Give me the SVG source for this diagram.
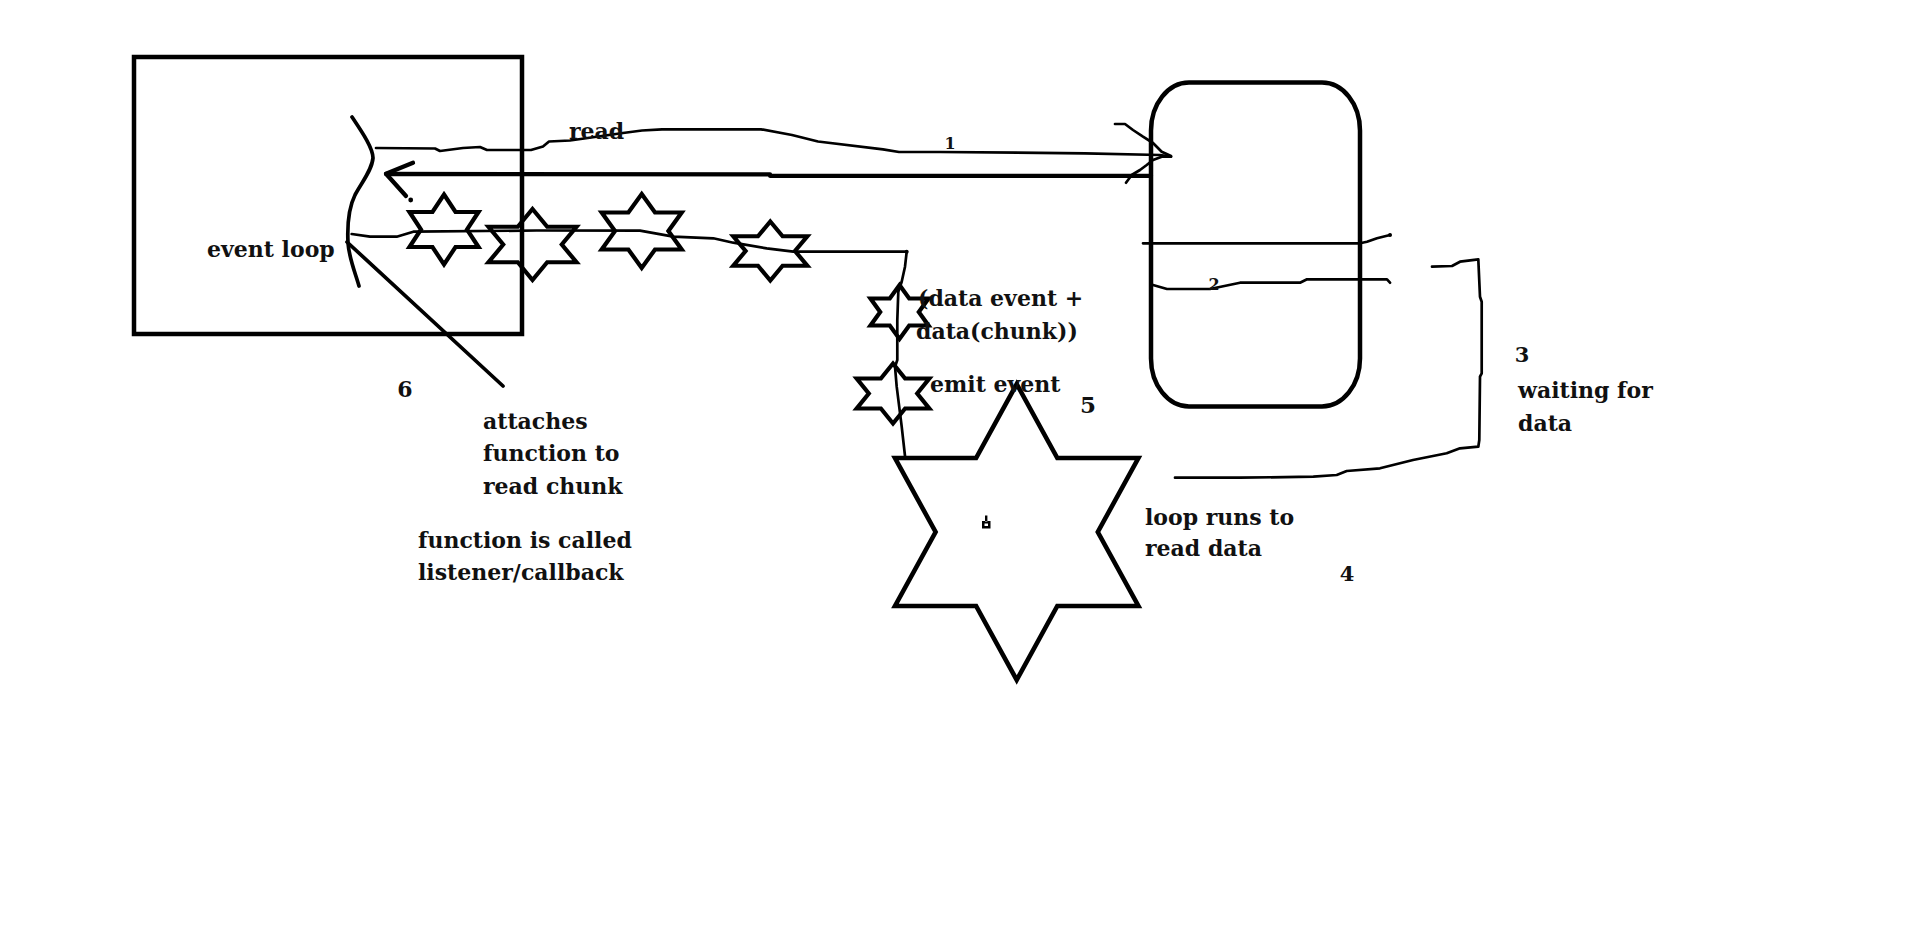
<svg xmlns="http://www.w3.org/2000/svg" width="1917" height="952" viewBox="0 0 1917 952">
<style>
.bg{fill:#fff}
.box{fill:none;stroke:#000;stroke-width:4.5}
.star{fill:none;stroke:#000;stroke-width:4.2;stroke-linejoin:miter}
.bigstar{fill:none;stroke:#000;stroke-width:4.6;stroke-linejoin:miter}
.thin{fill:none;stroke:#000;stroke-width:2.7;stroke-linecap:round;stroke-linejoin:round}
.med{fill:none;stroke:#000;stroke-width:3.7;stroke-linecap:round;stroke-linejoin:round}
.thick{fill:none;stroke:#000;stroke-width:4.3;stroke-linecap:round;stroke-linejoin:round}
text{font-family:"DejaVu Serif","Liberation Serif",serif;font-weight:bold;font-size:22px;fill:#111}
.num{font-size:16px}
.mid{text-anchor:middle}
</style>
<rect class="bg" x="0" y="0" width="1917" height="952"/>

<g id="event-loop-box">
  <rect class="box" x="134" y="57" width="388" height="277"/>
  <path class="med" d="M352,117 C362,132 373,148 373,158 C372,170 362,182 355,195 C349,207 347,222 348,243 C349,258 355,272 359,286"/>
  <text x="207" y="257">event loop</text>
</g>

<g id="storage">
  <rect class="box" x="1151" y="82.5" width="209" height="324" rx="38" ry="48"/>
</g>

<g id="connectors">
  <path class="thin" d="M376,148 L435,148.5 L440,151 L463,148 L480,147 L487,150 L531,150 L543,146.5 L549,141.5 L570,140.5 L623,133 L642,130.5 L662,129.3 L761,129.3 L792,135 L818,141.5 L883,149.3 L899,152 L940,152 L1085,153.3 L1160,155 L1171,156.5"/>
  <path class="thin" d="M1115,124 L1125,124 L1133,130 L1143,136.7 L1153,143 L1161.7,151.7 L1171,156"/>
  <path class="thin" d="M1171,156.7 L1161.7,156.7 L1153,160 L1146.7,165 L1140,170 L1131.7,175 L1126,182.7"/>
  <path class="thick" d="M1151,175.8 L770,175.8 L770,174.3 L386,174"/>
  <path class="thick" d="M413,162.7 L386,173.7 L406,196"/>
  <circle cx="410.7" cy="200" r="2.4" fill="#000"/>
  <path class="thin" d="M351.7,234 L370,236.7 L396.7,236.7 L413.3,231.7 L536.7,230.5 L640,230.7 L673.3,236.7 L713.3,238.3 L733.3,242.7 L766.7,248.3 L793.3,251.7 L906.7,251.7 L905,266.7 L901.7,281.7 L898.3,291.7 L897.3,320 L897.3,360 L895,366.7 L896.7,386.7 L901.7,426.7 L905,456"/>
  <circle cx="906.7" cy="251.7" r="2" fill="#000"/>
  <path class="med" d="M347,242 L503,386"/>
  <path class="thin" d="M1143,243.3 L1360,243.3 L1367,241.7 L1377,238.3 L1390,235"/>
  <circle cx="1390" cy="235" r="2" fill="#000"/>
  <path class="thin" d="M1153,285 L1167,289 L1210,289 L1240,282.7 L1300,282.7 L1307,279.3 L1387,279.3 L1390,282.7"/>
  <path class="thin" d="M1432,266.7 L1452,266 L1460,261.7 L1478.3,259.3 L1480,296.7 L1481.7,301.7 L1481.7,373.3 L1480,376.7 L1479.3,440 L1478.3,446.7 L1460,448.3 L1446.7,453.3 L1413,460 L1380,468.3 L1346.7,471 L1336.7,475 L1313.3,476.7 L1240,477.7 L1175,477.7"/>
</g>

<g id="star-a"><polygon class="star" points="444,194.5 455.5,212 478.5,212 467,229.5 478.5,247 455.5,247 444,264.5 432.5,247 409.5,247 421,229.5 409.5,212 432.5,212"/></g>
<g id="star-b"><polygon class="star" points="532.5,209 547.2,226.75 576.5,226.75 561.8,244.5 576.5,262.25 547.2,262.25 532.5,280 517.8,262.25 488.5,262.25 503.2,244.5 488.5,226.75 517.8,226.75"/></g>
<g id="star-c"><polygon class="star" points="641.7,194 655,212.5 681.7,212.5 668.4,231 681.7,249.5 655,249.5 641.7,268 628.4,249.5 601.7,249.5 615,231 601.7,212.5 628.4,212.5"/></g>
<g id="star-d"><polygon class="star" points="770.3,221.5 782.6,236.25 807.3,236.25 795,251 807.3,265.75 782.6,265.75 770.3,280.5 758,265.75 733.3,265.75 745.6,251 733.3,236.25 758,236.25"/></g>
<g id="star-e"><polygon class="star" points="899.5,285 909.2,298.5 928.5,298.5 918.8,312 928.5,325.5 909.2,325.5 899.5,339 889.8,325.5 870.5,325.5 880.2,312 870.5,298.5 889.8,298.5"/></g>
<g id="star-f"><polygon class="star" points="893,363.5 905.1,378.5 929.3,378.5 917.2,393.5 929.3,408.5 905.1,408.5 893,423.5 880.9,408.5 856.7,408.5 868.8,393.5 856.7,378.5 880.9,378.5"/></g>
<g id="star-big">
  <polygon class="bigstar" points="1016.7,384 1057.3,458 1138.4,458 1097.8,532 1138.4,606 1057.3,606 1016.7,680 976.1,606 895,606 935.6,532 895,458 976.1,458"/>
  <path d="M982,521 h8.5 v7.5 h-8.5 z M984.5,523.5 v2.5 h3.5 v-2.5 z M985,515.5 h2.4 v6 h-2.4 z" fill="#000" fill-rule="evenodd"/>
</g>

<g id="labels">
  <text x="569" y="139">read</text>
  <text class="num mid" x="950" y="149">1</text>
  <text class="num mid" x="1214" y="290">2</text>
  <text class="mid" x="1522" y="362" style="font-size:21px">3</text>
  <text x="1518" y="398">waiting for</text>
  <text x="1518" y="431">data</text>
  <text x="918" y="306">(data event +</text>
  <text x="916" y="339">data(chunk))</text>
  <text x="930" y="392">emit event</text>
  <text class="mid" x="1088" y="413" style="font-size:23px">5</text>
  <text x="1145" y="525">loop runs to</text>
  <text x="1145" y="556">read data</text>
  <text class="mid" x="1347" y="581" style="font-size:21px">4</text>
  <text class="mid" x="405" y="397">6</text>
  <text x="483" y="429">attaches</text>
  <text x="483" y="461">function to</text>
  <text x="483" y="494">read chunk</text>
  <text x="418" y="548">function is called</text>
  <text x="418" y="580">listener/callback</text>
</g>
</svg>
